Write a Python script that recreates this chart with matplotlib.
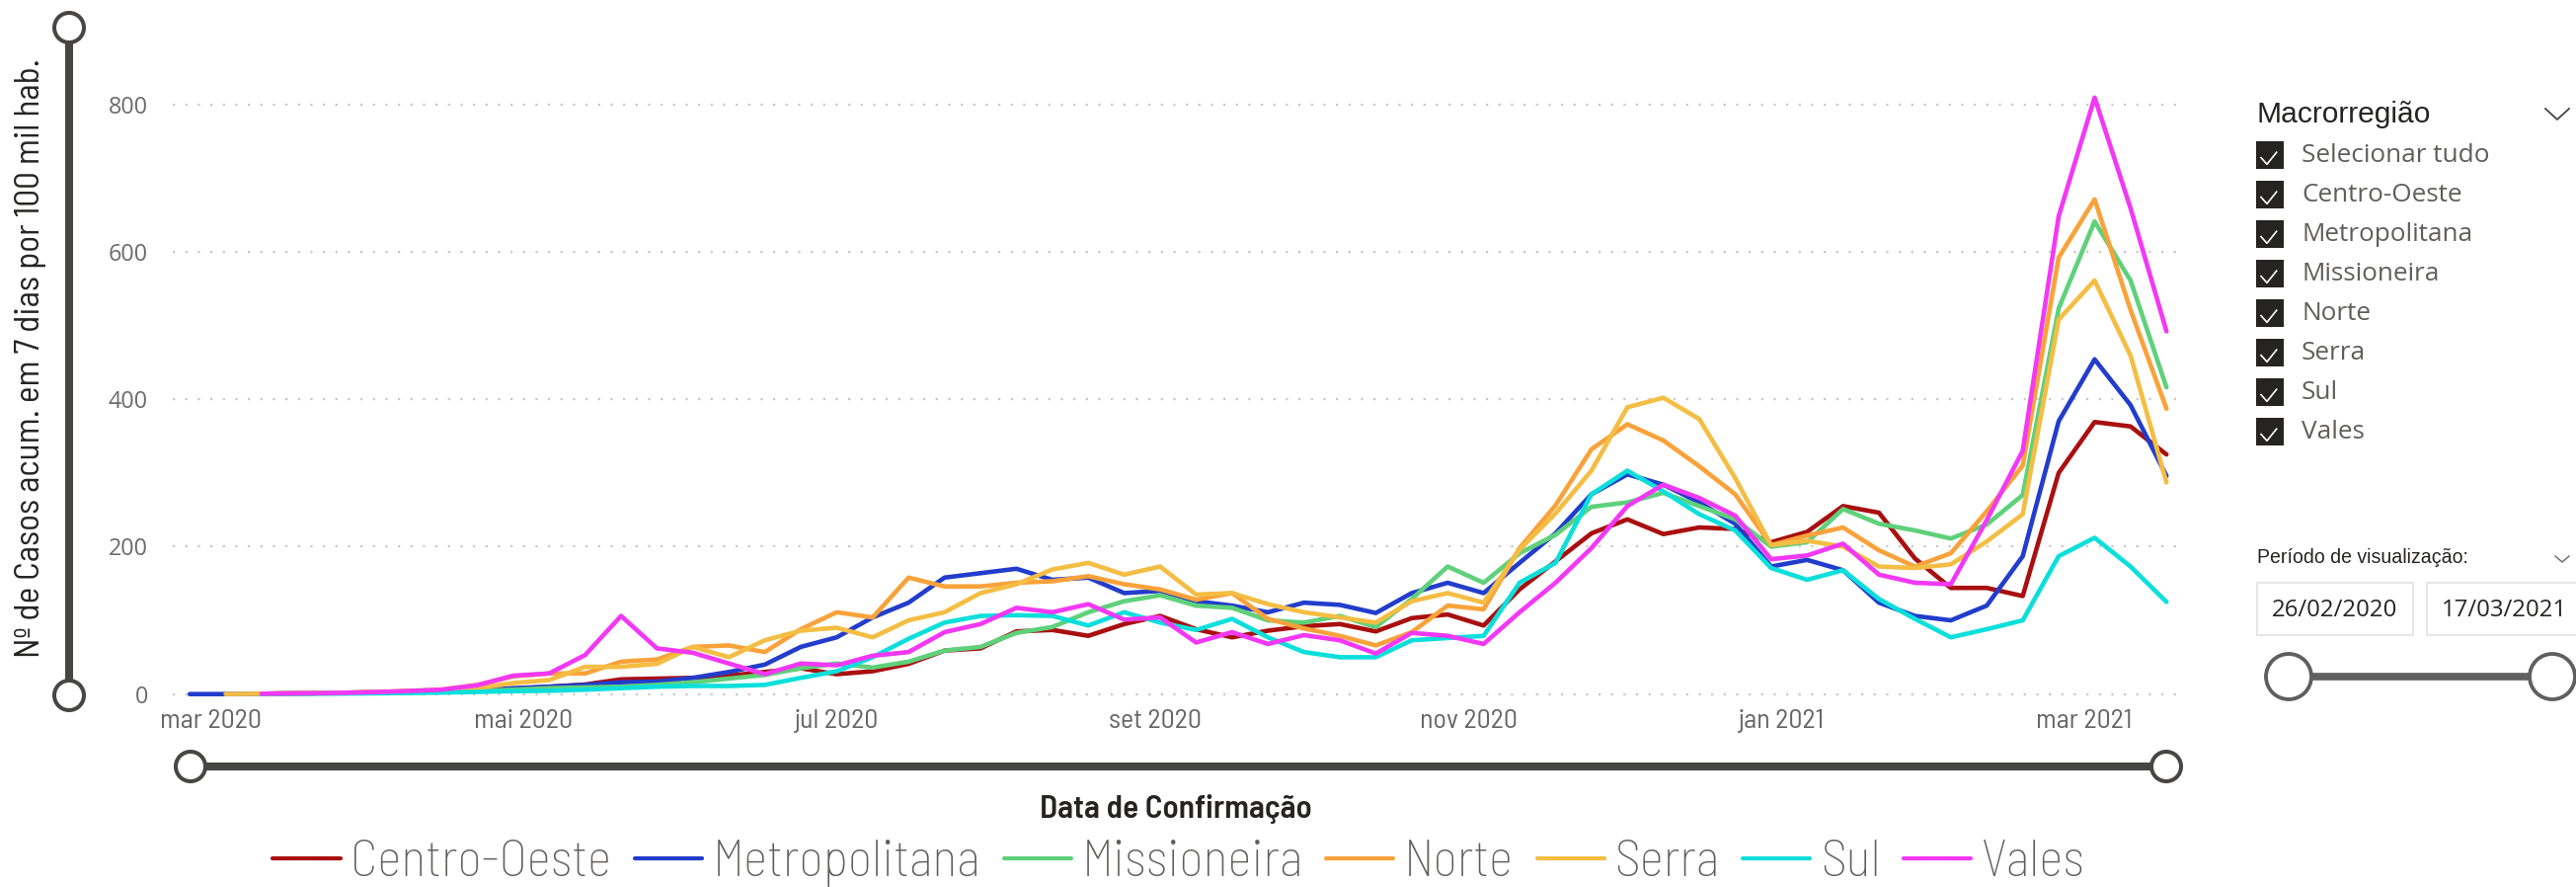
import datetime as dt

import matplotlib
matplotlib.use("Agg")
import matplotlib.dates as mdates
import matplotlib.pyplot as plt
import numpy as np
from matplotlib import font_manager
from matplotlib.patches import Circle, Rectangle

W, H = 2609, 898
nan = np.nan

# weekly samples, 26/02/2020 .. 17/03/2021
dates = [dt.date(2020, 2, 26) + dt.timedelta(days=7 * i) for i in range(56)]

regions = ["Centro-Oeste", "Metropolitana", "Missioneira", "Norte", "Serra", "Sul", "Vales"]
colors = ["#A90F0F", "#223DCB", "#5ED17A", "#F9A23A", "#F4BD43", "#0CDFDB", "#F238F5"]

centro_oeste = [nan, nan, 0.5, 1, 1.5, 2, 3, 4, 5, 7, 10, 13, 20, 21,
                22, 25, 30, 35, 27, 31, 41, 59, 62, 85, 87, 79, 95, 106,
                88, 77, 86, 92, 95, 85, 103, 108, 93, 142, 180, 218, 237, 217,
                226, 224, 206, 220, 255, 246, 184, 144, 144, 133, 300, 369, 363, 325]
metropolitana = [0, 0, 0.5, 1, 1.5, 2.5, 3.5, 4, 5, 8, 10, 12.5, 16, 17,
                 22, 30, 40, 64, 77, 104, 124, 158, 164, 170, 155, 158, 137, 140,
                 126, 120, 111, 124, 121, 110, 137, 151, 137, 178, 218, 271, 298, 284,
                 260, 231, 173, 182, 168, 124, 106, 100, 120, 187, 370, 454, 392, 296]
missioneira = [nan, nan, 0.3, 0.5, 1, 1.5, 2, 3, 4, 6, 8, 9, 10, 12.5,
               16, 21, 26, 35, 41.5, 36, 44, 59, 64, 83, 91, 111, 126, 134,
               120, 117, 100, 97, 106, 91, 129, 173, 151, 191, 216, 254, 260, 273,
               255, 237, 200, 206, 251, 231, 222, 211, 230, 270, 523, 641, 561, 416]
norte = [nan, nan, 0.5, 1, 1.5, 2.5, 4, 6, 12.5, 24, 28, 28, 44, 47,
         64, 66, 57, 88, 111, 104, 158, 146, 146, 151, 153, 160, 149, 142,
         128, 137, 102, 89, 79, 66, 84, 120, 115, 198, 256, 332, 366, 344,
         309, 271, 202, 215, 226, 195, 173, 191, 248, 310, 592, 671, 521, 387]
serra = [nan, 0, 0.5, 1, 1.5, 2.5, 3.5, 5, 8, 15, 19, 37, 37, 41,
         64, 50, 73, 86, 90, 77, 100, 111, 137, 149, 169, 178, 162, 173,
         135, 137, 122, 111, 104, 97, 126, 137, 124, 196, 245, 303, 389, 402,
         373, 293, 202, 208, 200, 173, 171, 176, 207, 244, 508, 561, 459, 287]
sul = [nan, nan, 0.2, 0.5, 0.8, 1, 1.5, 2, 3, 4, 4.5, 6, 8, 10,
       11, 11, 12.5, 22, 31, 50, 75, 97, 106, 107, 106, 93, 111, 97,
       87, 102, 77, 57, 50, 50, 73, 76, 79, 151, 178, 271, 303, 275,
       244, 222, 171, 155, 168, 129, 102, 77, 88, 100, 187, 212, 173, 125]
vales = [nan, nan, 0.5, 1, 1.5, 2.5, 4, 6, 12, 25, 28, 53, 106, 62,
         56, 41.5, 27, 41.5, 39, 52, 57, 84, 95, 117, 111, 122, 101, 104,
         70, 84, 68, 80, 73, 55, 83, 79, 68, 111, 151, 198, 255, 284,
         266, 242, 183, 188, 204, 162, 151, 149, 236, 330, 648, 809, 659, 492]

series = [centro_oeste, metropolitana, missioneira, norte, serra, sul, vales]

y_ticks = [0, 200, 400, 600, 800]
month_ticks = [dt.date(2020, 3, 1), dt.date(2020, 5, 1), dt.date(2020, 7, 1), dt.date(2020, 9, 1),
               dt.date(2020, 11, 1), dt.date(2021, 1, 1), dt.date(2021, 3, 1)]
month_labels = ["mar 2020", "mai 2020", "jul 2020", "set 2020", "nov 2020", "jan 2021", "mar 2021"]

slicer_items = ["Selecionar tudo"] + regions
period_start, period_end = "26/02/2020", "17/03/2021"

# condensed face for the axis titles, ticks and legend
installed = {f.name for f in font_manager.fontManager.ttflist}
NARROW = "DejaVu Sans"
for cand in ["Barlow Semi Condensed", "Roboto Condensed", "Fira Sans Condensed",
             "Liberation Sans Narrow"]:
    if cand in installed:
        NARROW = cand
        break
NARROW_FAM = [NARROW, "DejaVu Sans"]
SANS_FAM = ["Open Sans", "DejaVu Sans"]
ARIAL_FAM = ["Liberation Sans", "DejaVu Sans"]

plt.rcParams["font.family"] = SANS_FAM

DARK = "#252423"
GREY_TXT = "#605E5C"
SLIDER = "#474645"

fig = plt.figure(figsize=(W / 100, H / 100), dpi=100)
renderer = fig.canvas.get_renderer()


def fx(x):
    return x / W


def fy(y):
    return 1 - y / H


def fit(artist, target_px):
    """Scale a text's font size so its long side spans target_px."""
    bb = artist.get_window_extent(renderer)
    artist.set_fontsize(artist.get_fontsize() * target_px / max(bb.width, bb.height))


# main chart
ax = fig.add_axes([fx(175), fy(713.9), (2214 - 175) / W, (713.9 - 68.2) / H])
for name, vals, color in zip(regions, series, colors):
    ax.plot(dates, vals, color=color, lw=3.3, label=name,
            solid_capstyle="round", solid_joinstyle="round")

base = mdates.date2num(dt.date(2020, 3, 1))
ax.set_xlim(base - 7.31, base + 384.8)
ax.set_ylim(-15, 850)
for s in ax.spines.values():
    s.set_visible(False)
ax.set_yticks(y_ticks)
ax.set_yticklabels([str(v) for v in y_ticks], family=SANS_FAM, fontsize=17.5, color="#6B6B6B")
ax.set_xticks(month_ticks)
ax.set_xticklabels(month_labels, family=NARROW_FAM, fontsize=20, color="#666666")
ax.tick_params(axis="y", length=0, pad=18)
ax.tick_params(axis="x", length=0, pad=3)
ax.yaxis.grid(True, color="#C8C8C8", lw=1.6, linestyle=(0, (1, 4.7)), dash_capstyle="butt")
ax.xaxis.grid(False)
ax.set_axisbelow(True)
ax.patch.set_visible(False)

fig.canvas.draw()
for lab, target in ((ax.get_xticklabels()[0], 103), (ax.get_yticklabels()[-1], 40)):
    bb = lab.get_window_extent(renderer)
    size = lab.get_fontsize() * target / bb.width
    for other in (ax.get_xticklabels() if target == 103 else ax.get_yticklabels()):
        other.set_fontsize(size)

ylab = fig.text(fx(31), fy(363), "Nº de Casos acum. em 7 dias por 100 mil hab.", rotation=90,
                ha="center", va="center", color=DARK, fontsize=24, family=NARROW_FAM)
fit(ylab, 608)
xlab = fig.text(fx(1191), fy(819), "Data de Confirmação", ha="center", va="center", color=DARK,
                fontsize=22, weight="semibold", family=NARROW_FAM)
fit(xlab, 276)

handles, labels = ax.get_legend_handles_labels()
leg_size = 32
for _ in range(2):
    leg = fig.legend(handles, labels, loc="center", bbox_to_anchor=(fx(1194), fy(874)), ncol=7,
                     frameon=False, handlelength=1.3, handletextpad=0.2, columnspacing=0.45,
                     labelcolor=GREY_TXT, borderpad=0,
                     prop={"family": NARROW_FAM, "size": leg_size, "weight": "light"})
    width = leg.get_window_extent(renderer).width
    if abs(width - 1838) < 4:
        break
    leg.remove()
    leg_size *= 1838 / width
for line in leg.get_lines():
    line.set_linewidth(3.0)

# overlay in pixel units for the slicers and range sliders
ui = fig.add_axes([0, 0, 1, 1])
ui.set_xlim(0, W)
ui.set_ylim(H, 0)
ui.axis("off")
ui.patch.set_visible(False)


def range_slider(x0, y0, x1, y1, r, lw, color):
    ui.plot([x0, x1], [y0, y1], color=color, lw=lw, solid_capstyle="butt", zorder=1)
    for cx, cy in ((x0, y0), (x1, y1)):
        ui.add_patch(Circle((cx, cy), r, facecolor="white", edgecolor=color,
                            lw=lw * 0.5, zorder=2))


range_slider(70, 28, 70, 704, 15, 5.8, SLIDER)
range_slider(193, 776, 2194, 776, 15, 5.8, SLIDER)

# region slicer
title = ui.text(2286, 116, "Macrorregião", ha="left", va="center", color=DARK, fontsize=21.5,
                family=ARIAL_FAM)
fit(title, 177)
ui.plot([2578, 2590, 2602], [110, 121, 110], color="#444444", lw=1.3)
item_texts = []
for i, item in enumerate(slicer_items):
    yc = 157.3 + 40 * i
    ui.add_patch(Rectangle((2285, yc - 14), 28, 28, facecolor=DARK, edgecolor="none"))
    ui.plot([2290, 2296, 2305.7], [yc + 2.3, yc + 9, yc - 3.1], color="white", lw=1.2)
    item_texts.append(ui.text(2331, yc, item, ha="left", va="center", color=GREY_TXT,
                              fontsize=19.5, family=SANS_FAM))
bb = item_texts[0].get_window_extent(renderer)
item_size = item_texts[0].get_fontsize() * 191 / bb.width
for t in item_texts:
    t.set_fontsize(item_size)

# date slicer
period = ui.text(2286, 564, "Período de visualização:", ha="left", va="center", color=DARK,
                 fontsize=13.6, family=ARIAL_FAM)
fit(period, 212)
ui.plot([2588, 2595, 2602], [563, 569, 563], color="#666666", lw=1.0)
ui.add_patch(Rectangle((2286, 590), 158, 53, facecolor="white", edgecolor="#E6E6E6", lw=1.5))
ui.add_patch(Rectangle((2458, 590), 170, 53, facecolor="white", edgecolor="#E6E6E6", lw=1.5))
d0 = ui.text(2365, 618, period_start, ha="center", va="center", color=DARK, fontsize=17,
             family=SANS_FAM)
d1 = ui.text(2473, 618, period_end, ha="left", va="center", color=DARK, fontsize=17,
             family=SANS_FAM)
fit(d0, 127)
d1.set_fontsize(d0.get_fontsize())
range_slider(2318, 685, 2585, 685, 23, 5.5, "#5F5F5F")

fig.savefig("out.png", dpi=100)
